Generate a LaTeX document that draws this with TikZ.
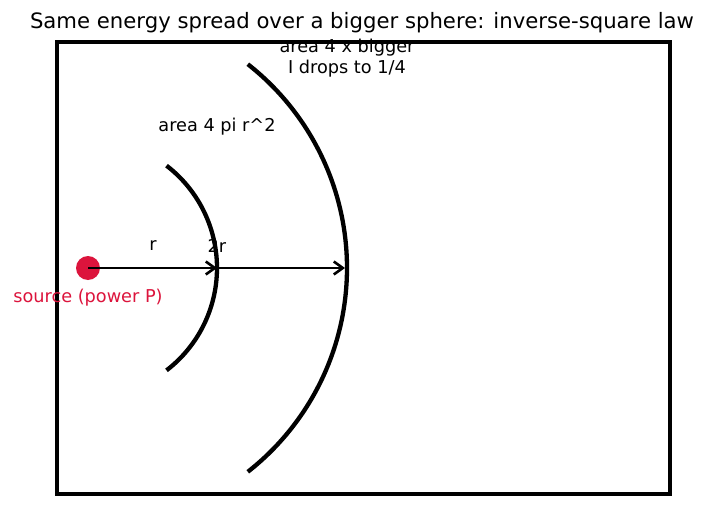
\documentclass[tikz,border=0pt]{standalone}
\usepackage{fontspec}
\setmainfont{DejaVu Sans}
\usepackage{xcolor}
\usetikzlibrary{positioning, arrows.meta}
\definecolor{srcred}{RGB}{220,20,60}

\begin{document}
\begin{tikzpicture}[
  x=1pt, y=-1pt,
  font=\fontsize{17.7}{21}\selectfont,
  frame/.style={draw, line width=4.3pt},
  wave/.style={draw, line width=4.3pt},
  ray/.style={-{Straight Barb[length=9pt, width=13pt, line width=2.6pt]}, line width=2.8pt},
  lbl/.style={inner sep=0pt, align=center},
]
\useasboundingbox (0,0) rectangle (710,508);
%% Title and frame
\node[lbl, font=\fontsize{21.2}{25}\selectfont] at (362,23) (title)
  {Same energy spread over a bigger sphere: inverse-square law};
\draw[frame] (57,42) rectangle (670,494);
%% Source
\node[circle, fill=srcred, minimum size=24pt, inner sep=0pt] at (88,268) (src) {};
\node[lbl, text=srcred] at (88,298) (srclbl) {source (power P)};
%% Wavefronts
\draw[wave] ([shift={(-52.5:129)}]src.center) arc[start angle=-52.5, end angle=52.5, radius=129];
\draw[wave] ([shift={(-51.9:259)}]src.center) arc[start angle=-51.9, end angle=51.9, radius=259];
\coordinate (r1) at (217,268);
\coordinate (r2) at (345,268);
%% Rays
\draw[ray] (src.center) -- (r1);
\draw[ray] (r1) -- (r2);
\node[lbl] at (153,246) (rlbl) {r};
\node[lbl] at (217,246) (rrlbl) {2r};
%% Area labels
\node[lbl] at (217,127) (area1) {area 4 pi r\^{}2};
\node[lbl] at (347,58) (area2) {area 4 x bigger\\I drops to 1/4};
\end{tikzpicture}
\end{document}
